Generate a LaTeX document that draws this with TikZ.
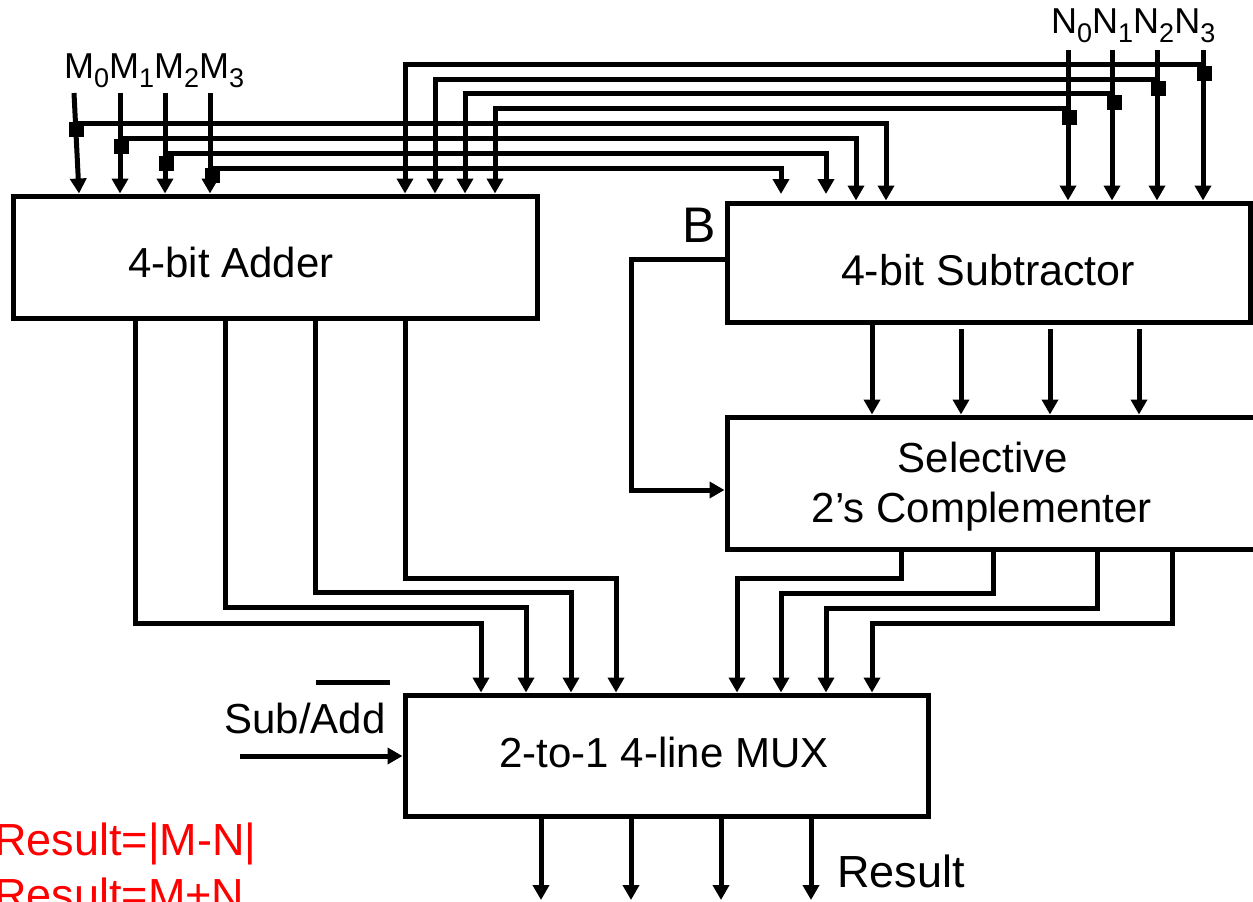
\documentclass[tikz,border=0pt]{standalone}
\usepackage{fontspec}
\setmainfont{Liberation Sans}
\usetikzlibrary{arrows.meta}
\newcommand{\mysub}[1]{\raisebox{-9pt}{\fontsize{27}{27}\selectfont #1}}
\begin{document}
\begin{tikzpicture}[x=1pt,y=-1pt,
  wire/.style={line width=5pt},
  arr/.style={wire,-{Triangle[width=16pt,length=15pt]}},
  box/.style={draw,line width=5pt,rectangle,inner sep=0pt},
  lbl/.style={font=\fontsize{42}{50}\selectfont,inner sep=0pt,anchor=base},
  jn/.style={fill,rectangle,minimum size=15pt,inner sep=0pt},
  redlbl/.style={font=\fontsize{45}{54}\selectfont,text=red,inner sep=0pt,anchor=base west}]
\useasboundingbox (0,0) rectangle (1253,902);
\clip (0,0) rectangle (1253,902);

% boxes
\node[box,minimum width=524pt,minimum height=122pt] (adder) at (275,257) {};
\node[box,minimum width=523pt,minimum height=119pt] (sub) at (988.5,262.5) {};
\node[box,minimum width=593pt,minimum height=132pt] (comp) at (1023.5,483) {};
\node[box,minimum width=523pt,minimum height=121pt] (mux) at (666.5,755.5) {};

% box texts
\node[lbl] (adderT) at (231,277) {4-bit Adder};
\node[lbl,font=\fontsize{43}{50}\selectfont] (subT) at (988,285) {4-bit Subtractor};
\node[lbl] (compT1) at (983,472) {Selective};
\node[lbl] (compT2) at (982,522) {2’s Complementer};
\node[lbl] (muxT) at (664,767) {2-to-1 4-line MUX};

% input labels
\node[font=\fontsize{36}{40}\selectfont,inner sep=0pt,anchor=base west] (mlab) at (64,78)
  {M\mysub{0}M\mysub{1}M\mysub{2}M\mysub{3}};
\node[font=\fontsize{36}{40}\selectfont,inner sep=0pt,anchor=base west] (nlab) at (1051,34)
  {N\mysub{0}N\mysub{1}N\mysub{2}N\mysub{3}};
\node[font=\fontsize{50}{56}\selectfont,inner sep=0pt,anchor=base] (blab) at (699,242) {B};
\node[lbl] (sublab) at (305,733) {Sub/Add};
\coordinate (barL) at (316,682);
\coordinate (barR) at (390,682);
\draw[wire] (barL) -- (barR);
\node[font=\fontsize{45}{50}\selectfont,inner sep=0pt,anchor=base west] (reslab) at (837,887) {Result};
\node[redlbl] (red1) at (-6,855) {Result=|M-N|};
\node[redlbl] (red2) at (-6,910) {Result=M+N};

% M inputs
\coordinate (m0) at (74,93);  \coordinate (m0b) at (79,0);
\coordinate (m1) at (120,93); \coordinate (m2) at (165,93); \coordinate (m3) at (210,93);
\draw[arr] (m0) -- (adder.north -| m0b);
\draw[arr] (m1) -- (adder.north -| m1);
\draw[arr] (m2) -- (adder.north -| m2);
\draw[arr] (m3) -- (adder.north -| m3);
% M to subtractor
\coordinate (hm0) at (76,123);  \coordinate (hm1) at (121,138);
\coordinate (hm2) at (166,153); \coordinate (hm3) at (212,168);
\coordinate (sm0) at (886,0); \coordinate (sm1) at (856,0);
\coordinate (sm2) at (826,194); \coordinate (sm3) at (781,194);
\draw[arr] (hm0) -| (sub.north -| sm0);
\draw[arr] (hm1) -| (sub.north -| sm1);
\draw[arr] (hm2) -| (sm2);
\draw[arr] (hm3) -| (sm3);

% N inputs
\coordinate (n0) at (1068,50); \coordinate (n1) at (1112,50);
\coordinate (n2) at (1157,50); \coordinate (n3) at (1203,50);
\draw[arr] (n0) -- (sub.north -| n0);
\draw[arr] (n1) -- (sub.north -| n1);
\draw[arr] (n2) -- (sub.north -| n2);
\draw[arr] (n3) -- (sub.north -| n3);
% N to adder
\coordinate (hn3) at (1203,64);  \coordinate (hn2) at (1157,79);
\coordinate (hn1) at (1112,93);  \coordinate (hn0) at (1068,108);
\coordinate (an3) at (405,0); \coordinate (an2) at (435,0);
\coordinate (an1) at (465,0); \coordinate (an0) at (495,0);
\draw[arr] (hn3) -| (adder.north -| an3);
\draw[arr] (hn2) -| (adder.north -| an2);
\draw[arr] (hn1) -| (adder.north -| an1);
\draw[arr] (hn0) -| (adder.north -| an0);

% junction squares
\node[jn] (jm0) at (76,129) {};
\node[jn] (jm1) at (121,146) {};
\node[jn] (jm2) at (166,163) {};
\node[jn] (jm3) at (212,175) {};
\node[jn] (jn0) at (1069,117) {};
\node[jn] (jn1) at (1114,102) {};
\node[jn] (jn2) at (1158,88) {};
\node[jn] (jn3) at (1204,73) {};

% subtractor to complementer
\coordinate (s1) at (872,0); \coordinate (s2) at (961,329);
\coordinate (s3) at (1050,329); \coordinate (s4) at (1139,329);
\draw[arr] (sub.south -| s1) -- (comp.north -| s1);
\draw[arr] (s2) -- (comp.north -| s2);
\draw[arr] (s3) -- (comp.north -| s3);
\draw[arr] (s4) -- (comp.north -| s4);

% B line
\coordinate (bl) at (631,259);
\coordinate (bb) at (631,490);
\draw[arr] (sub.west |- bl) -- (bl) -- (bb) -- (comp.west |- bb);

% complementer to MUX
\coordinate (c1) at (901,578);  \coordinate (d1) at (737,0);
\coordinate (c2) at (993,593);  \coordinate (d2) at (781,0);
\coordinate (c3) at (1097,608); \coordinate (d3) at (826,0);
\coordinate (c4) at (1172,623); \coordinate (d4) at (872,0);
\draw[arr] (comp.south -| c1) -- (c1) -| (mux.north -| d1);
\draw[arr] (comp.south -| c2) -- (c2) -| (mux.north -| d2);
\draw[arr] (comp.south -| c3) -- (c3) -| (mux.north -| d3);
\draw[arr] (comp.south -| c4) -- (c4) -| (mux.north -| d4);

% adder to MUX
\coordinate (a1) at (135,623); \coordinate (e1) at (481,0);
\coordinate (a2) at (225,607); \coordinate (e2) at (526,0);
\coordinate (a3) at (315,592); \coordinate (e3) at (571,0);
\coordinate (a4) at (405,578); \coordinate (e4) at (616,0);
\draw[arr] (adder.south -| a1) -- (a1) -| (mux.north -| e1);
\draw[arr] (adder.south -| a2) -- (a2) -| (mux.north -| e2);
\draw[arr] (adder.south -| a3) -- (a3) -| (mux.north -| e3);
\draw[arr] (adder.south -| a4) -- (a4) -| (mux.north -| e4);

% Sub/Add control
\coordinate (ctl) at (240,756);
\draw[arr] (ctl) -- (mux.west |- ctl);

% outputs
\coordinate (o1) at (541,900); \coordinate (o2) at (631,900);
\coordinate (o3) at (721,900); \coordinate (o4) at (811,900);
\draw[arr] (mux.south -| o1) -- (o1);
\draw[arr] (mux.south -| o2) -- (o2);
\draw[arr] (mux.south -| o3) -- (o3);
\draw[arr] (mux.south -| o4) -- (o4);
\end{tikzpicture}
\end{document}
